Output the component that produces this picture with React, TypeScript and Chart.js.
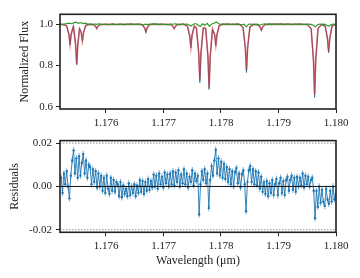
import { useEffect, useRef } from "react";
import { Chart, registerables } from "chart.js";

Chart.register(...registerables);

// ---------- data ----------
const waveMin = 1.1752;
const waveMax = 1.18;
const xTicks = [1.176, 1.177, 1.178, 1.179, 1.18];
const fluxTicks = [0.6, 0.8, 1.0];
const residTicks = [-0.02, 0, 0.02];
const residBounds = [-0.02, 0.02];

// model spectrum (red) and observed spectrum (blue), sampled on the same wavelengths
const modelWave = [
  1.1752, 1.17525, 1.175315, 1.175355, 1.175375, 1.175395, 1.175433, 1.175471, 1.175491, 1.175511,
  1.17554, 1.175569, 1.175589, 1.175609, 1.175649, 1.17572, 1.175779, 1.175819, 1.175839, 1.175859,
  1.175899, 1.17596, 1.17657, 1.176634, 1.176674, 1.176694, 1.176714, 1.176754, 1.17682, 1.17706,
  1.177126, 1.177166, 1.177186, 1.177206, 1.177246, 1.17731, 1.17735, 1.177416, 1.177456, 1.177476,
  1.177496, 1.177536, 1.177572, 1.177612, 1.177632, 1.177652, 1.177692, 1.177733, 1.177773, 1.177793,
  1.177813, 1.177852, 1.17789, 1.17791, 1.17793, 1.17797, 1.17803, 1.17832, 1.178383, 1.178423,
  1.178443, 1.178463, 1.178503, 1.17857, 1.178643, 1.178683, 1.178703, 1.178723, 1.178763, 1.17883,
  1.1795, 1.179568, 1.179608, 1.179628, 1.179648, 1.179688, 1.17975, 1.179812, 1.179852, 1.179872,
  1.179892, 1.179932, 1.18,
];
const modelFlux = [
  1.0, 1.0, 0.994, 0.952, 0.903, 0.952, 0.99, 0.904, 0.807, 0.904, 0.978, 0.96, 0.92, 0.96, 0.995, 1.0,
  0.999, 0.99, 0.98, 0.99, 0.999, 1.0,
  1.0, 0.998, 0.982, 0.964, 0.982, 0.998, 1.0,
  1.0, 0.999, 0.99, 0.98, 0.99, 0.999, 1.0,
  1.0, 0.993, 0.945, 0.89, 0.945, 0.993,
  0.984, 0.865, 0.73, 0.865, 0.984,
  0.982, 0.847, 0.694, 0.847, 0.978,
  0.95, 0.9, 0.95, 0.994, 1.0,
  1.0, 0.987, 0.889, 0.778, 0.889, 0.987, 1.0,
  0.998, 0.986, 0.972, 0.986, 0.998, 1.0,
  1.0, 0.98, 0.83, 0.66, 0.83, 0.98, 1.0,
  0.992, 0.933, 0.867, 0.933, 0.992, 1.0,
];
const obsFlux = [
  1.002, 0.999, 0.993, 0.95, 0.9, 0.955, 0.992, 0.902, 0.804, 0.905, 0.982, 0.962, 0.918, 0.958, 0.997,
  1.002, 1.0, 0.991, 0.978, 0.992, 1.001, 0.999,
  1.001, 0.997, 0.98, 0.96, 0.983, 0.999, 1.002,
  0.999, 1.0, 0.989, 0.978, 0.991, 1.001, 0.999,
  1.002, 0.99, 0.942, 0.887, 0.948, 0.99,
  0.98, 0.858, 0.717, 0.86, 0.982,
  0.978, 0.84, 0.684, 0.845, 0.975,
  0.948, 0.897, 0.952, 0.996, 1.001,
  0.999, 0.985, 0.882, 0.766, 0.884, 0.988, 1.001,
  0.997, 0.984, 0.97, 0.988, 0.999, 1.002,
  1.0, 0.977, 0.822, 0.645, 0.826, 0.982, 0.999,
  0.99, 0.928, 0.862, 0.93, 0.994, 1.001,
];

// green spectrum, regular wavelength grid
const greenStart = 1.1752;
const greenStep = 0.00004;
const greenFlux = [
  1.001, 0.999, 1.002, 1.004, 1.006, 1.003, 1.008, 1.011, 1.005, 1.009, 1.004, 1.006, 1.002,
  1.001, 0.999, 1.002, 1.0, 1.003, 0.999, 1.001, 1.002, 0.998, 1.001, 1.003, 1.0, 0.999, 1.002,
  1.001, 0.998, 1.002, 1.0, 1.003, 0.999, 1.001, 1.0, 1.002, 0.997, 1.001, 0.999, 1.002, 1.0,
  1.003, 1.001, 0.999, 1.002, 1.0, 1.001, 0.998, 1.002, 1.001, 1.003, 1.0, 0.999, 1.002, 1.001,
  1.002, 0.998, 0.992, 1.001, 1.004, 0.997, 0.99, 1.003, 0.996, 1.005, 0.99, 1.002, 1.006, 1.012,
  1.003, 1.001,
  1.002, 1.0, 1.003, 0.999, 1.002, 1.001, 1.003, 1.0, 0.998, 1.001,
  0.988,
  1.001, 1.002, 0.999, 1.001, 1.0, 0.996, 1.001, 1.003, 1.0, 1.002, 0.999, 1.001, 1.002, 1.0,
  1.003, 0.999, 1.001, 1.002, 1.0, 0.999, 1.002, 1.001, 1.003, 1.0, 1.001, 0.999, 1.002, 1.0, 0.997,
  0.988,
  0.998, 1.002, 1.0, 1.001, 0.996, 0.992, 0.999, 1.002, 1.001,
];

// residuals (units of 1e-4), regular wavelength grid
const residStart = 1.17522;
const residStep = 0.000024;
const residE4 = [
  40, -30, 60, 10,
  70, 0, -55, 50,
  120, 167, 60, 130, 40,
  140, 50, 110, 150, 60, 120, 40, 100,
  90, 10, 80, 20, 70, -5, 60, 0,
  50, -20, 40, -30, 50, -10, -35, 40, -20, 30, -25, 20,
  10, -45, 20, -50, 5, -35, -10, -45, 15, -40, 0, -30, 10, -45, 5,
  -30, 30, -25, 25, -35, 20, -20, 35, -15, 25,
  -5, 55, 0, 50, -10, 60, 10, 45, -5, 65, 15, 55, 0, 60, 10,
  70, 5, 65, 20, 75, 0, 55, 15, 80, 10, 60, -5, 45, 20, 75, 5, 60, 25, 50,
  -130,
  10, 70, 30, 80, 15, 60,
  -100,
  30, 95, 50, 120,
  170,
  60, 130, 50, 115, 40, 105, 35, 90,
  20, 80, 10, 70, 0, 65, 85, 15, 60, -5, 55, 75, 10,
  -115,
  20, 75, 95, 20, 80, 10, 70, 5, 65, -10, 45,
  -25, 20, -35, 25, -45, 15, -30, 30, -40, 10, 35, -40, 15, 40, -30, 25, -40, 30, 45, -20, 30, 50, -15, 40, -25,
  45, 0, 40, 5, 60, -5, 50, 10, 45, 0, 30, 40, -20,
  -147,
  -20, -95, 0, -75, -15, -70, -90, -10, -60, -80, -20, -70, 0, -60, -35,
];
const residErr = 0.0015;

// ---------- helpers ----------
const FONT = "'Liberation Serif', 'Times New Roman', serif";
const INK = "#222";

const framePlugin = {
  id: "frame",
  afterDatasetsDraw(chart: any) {
    const { ctx, chartArea: a } = chart;
    ctx.save();
    ctx.strokeStyle = INK;
    ctx.lineWidth = 1.6;
    ctx.strokeRect(a.left, a.top, a.right - a.left, a.bottom - a.top);
    ctx.restore();
  },
};

function xAxis(height: number, title: string | null) {
  return {
    type: "linear",
    min: waveMin,
    max: waveMax,
    afterBuildTicks: (s: any) => {
      s.ticks = xTicks.map((v) => ({ value: v }));
    },
    afterFit: (s: any) => {
      s.height = height;
    },
    ticks: {
      autoSkip: false,
      maxRotation: 0,
      padding: 3.5,
      color: INK,
      font: { family: FONT, size: 11 },
      callback: (v: any) => Number(v).toFixed(3),
    },
    grid: {
      drawOnChartArea: false,
      drawTicks: true,
      tickLength: 4,
      tickWidth: 1,
      tickColor: INK,
    },
    border: { display: false },
    title: title
      ? {
          display: true,
          text: title,
          color: INK,
          font: { family: FONT, size: 12 },
          padding: { top: 0, bottom: 9.5 },
        }
      : { display: false },
  };
}

function yAxis(min: number, max: number, ticksArr: number[], digits: number, title: string, titlePad: number, labelPad: number) {
  return {
    type: "linear",
    min,
    max,
    afterBuildTicks: (s: any) => {
      s.ticks = ticksArr.map((v) => ({ value: v }));
    },
    afterFit: (s: any) => {
      s.width = 60;
    },
    ticks: {
      padding: labelPad,
      color: INK,
      font: { family: FONT, size: 11 },
      callback: (v: any) => Number(v).toFixed(digits),
    },
    grid: {
      drawOnChartArea: false,
      drawTicks: true,
      tickLength: 4,
      tickWidth: 1,
      tickColor: INK,
    },
    border: { display: false },
    title: {
      display: true,
      text: title,
      color: INK,
      font: { family: FONT, size: 12 },
      padding: { top: titlePad, bottom: 0 },
    },
  };
}

export default function App() {
  const topRef = useRef<HTMLCanvasElement | null>(null);
  const botRef = useRef<HTMLCanvasElement | null>(null);

  useEffect(() => {
    const modelPts = modelWave.map((x, i) => ({ x, y: modelFlux[i] }));
    const obsPts = modelWave.map((x, i) => ({ x, y: obsFlux[i] }));
    const greenPts = greenFlux.map((y, i) => ({ x: greenStart + i * greenStep, y }));
    const residVals = residE4.map((v) => v / 10000);
    const residPts = residVals.map((y, i) => ({ x: residStart + i * residStep, y }));

    const top = new Chart(topRef.current as HTMLCanvasElement, {
      type: "line",
      data: {
        datasets: [
          {
            data: greenPts,
            borderColor: "rgb(44,150,44)",
            borderWidth: 1.1,
            pointRadius: 0,
            order: 0,
          },
          {
            data: modelPts,
            borderColor: "rgba(214,39,40,0.65)",
            borderWidth: 1.6,
            pointRadius: 0,
            order: 1,
          },
          {
            data: obsPts,
            borderColor: "rgba(31,119,180,0.9)",
            borderWidth: 1,
            pointRadius: 0,
            order: 2,
          },
        ],
      },
      options: {
        animation: false,
        responsive: false,
        devicePixelRatio: 1,
        parsing: false,
        layout: { padding: { left: 0, right: 24, top: 14.3, bottom: 0 } },
        plugins: { legend: { display: false }, tooltip: { enabled: false } },
        scales: {
          x: xAxis(21, null),
          y: yAxis(0.589, 1.049, fluxTicks, 1, "Normalized Flux", 18, 3),
        },
      } as any,
      plugins: [framePlugin],
    });

    const errorBars = {
      id: "errbars",
      beforeDatasetsDraw(chart: any) {
        const meta = chart.getDatasetMeta(3);
        const ys = chart.scales.y;
        const { ctx, chartArea: a } = chart;
        ctx.save();
        ctx.beginPath();
        ctx.rect(a.left, a.top, a.right - a.left, a.bottom - a.top);
        ctx.clip();
        ctx.strokeStyle = "rgba(31,119,180,0.75)";
        ctx.lineWidth = 0.8;
        ctx.beginPath();
        meta.data.forEach((pt: any, i: number) => {
          const v = residVals[i];
          ctx.moveTo(pt.x, ys.getPixelForValue(v + residErr));
          ctx.lineTo(pt.x, ys.getPixelForValue(v - residErr));
        });
        ctx.stroke();
        ctx.restore();
      },
    };

    const bot = new Chart(botRef.current as HTMLCanvasElement, {
      type: "line",
      data: {
        datasets: [
          {
            data: [
              { x: waveMin, y: 0 },
              { x: waveMax, y: 0 },
            ],
            borderColor: "#111",
            borderWidth: 1,
            pointRadius: 0,
            order: 0,
          },
          {
            data: [
              { x: waveMin, y: residBounds[1] },
              { x: waveMax, y: residBounds[1] },
            ],
            borderColor: "#777",
            borderWidth: 0.8,
            borderDash: [1.5, 1.5],
            pointRadius: 0,
            order: 1,
          },
          {
            data: [
              { x: waveMin, y: residBounds[0] },
              { x: waveMax, y: residBounds[0] },
            ],
            borderColor: "#777",
            borderWidth: 0.8,
            borderDash: [1.5, 1.5],
            pointRadius: 0,
            order: 2,
          },
          {
            data: residPts,
            borderColor: "rgba(31,119,180,0.9)",
            borderWidth: 1,
            pointRadius: 1.2,
            pointBorderWidth: 0,
            pointBackgroundColor: "#1f77b4",
            order: 3,
          },
        ],
      },
      options: {
        animation: false,
        responsive: false,
        devicePixelRatio: 1,
        parsing: false,
        layout: { padding: { left: 0, right: 24, top: 7, bottom: 0 } },
        plugins: { legend: { display: false }, tooltip: { enabled: false } },
        scales: {
          x: xAxis(45.7, "Wavelength (μm)"),
          y: yAxis(-0.0212, 0.0212, residTicks, 2, "Residuals", 7.5, 4),
        },
      } as any,
      plugins: [framePlugin, errorBars],
    });

    return () => {
      top.destroy();
      bot.destroy();
    };
  }, []);

  return (
    <div style={{ position: "fixed", left: 0, top: 0, width: 360, height: 278, background: "#fff" }}>
      <canvas ref={topRef} width={360} height={130} style={{ position: "absolute", left: 0, top: 0, width: 360, height: 130 }} />
      <canvas ref={botRef} width={360} height={148} style={{ position: "absolute", left: 0, top: 130, width: 360, height: 148 }} />
    </div>
  );
}
